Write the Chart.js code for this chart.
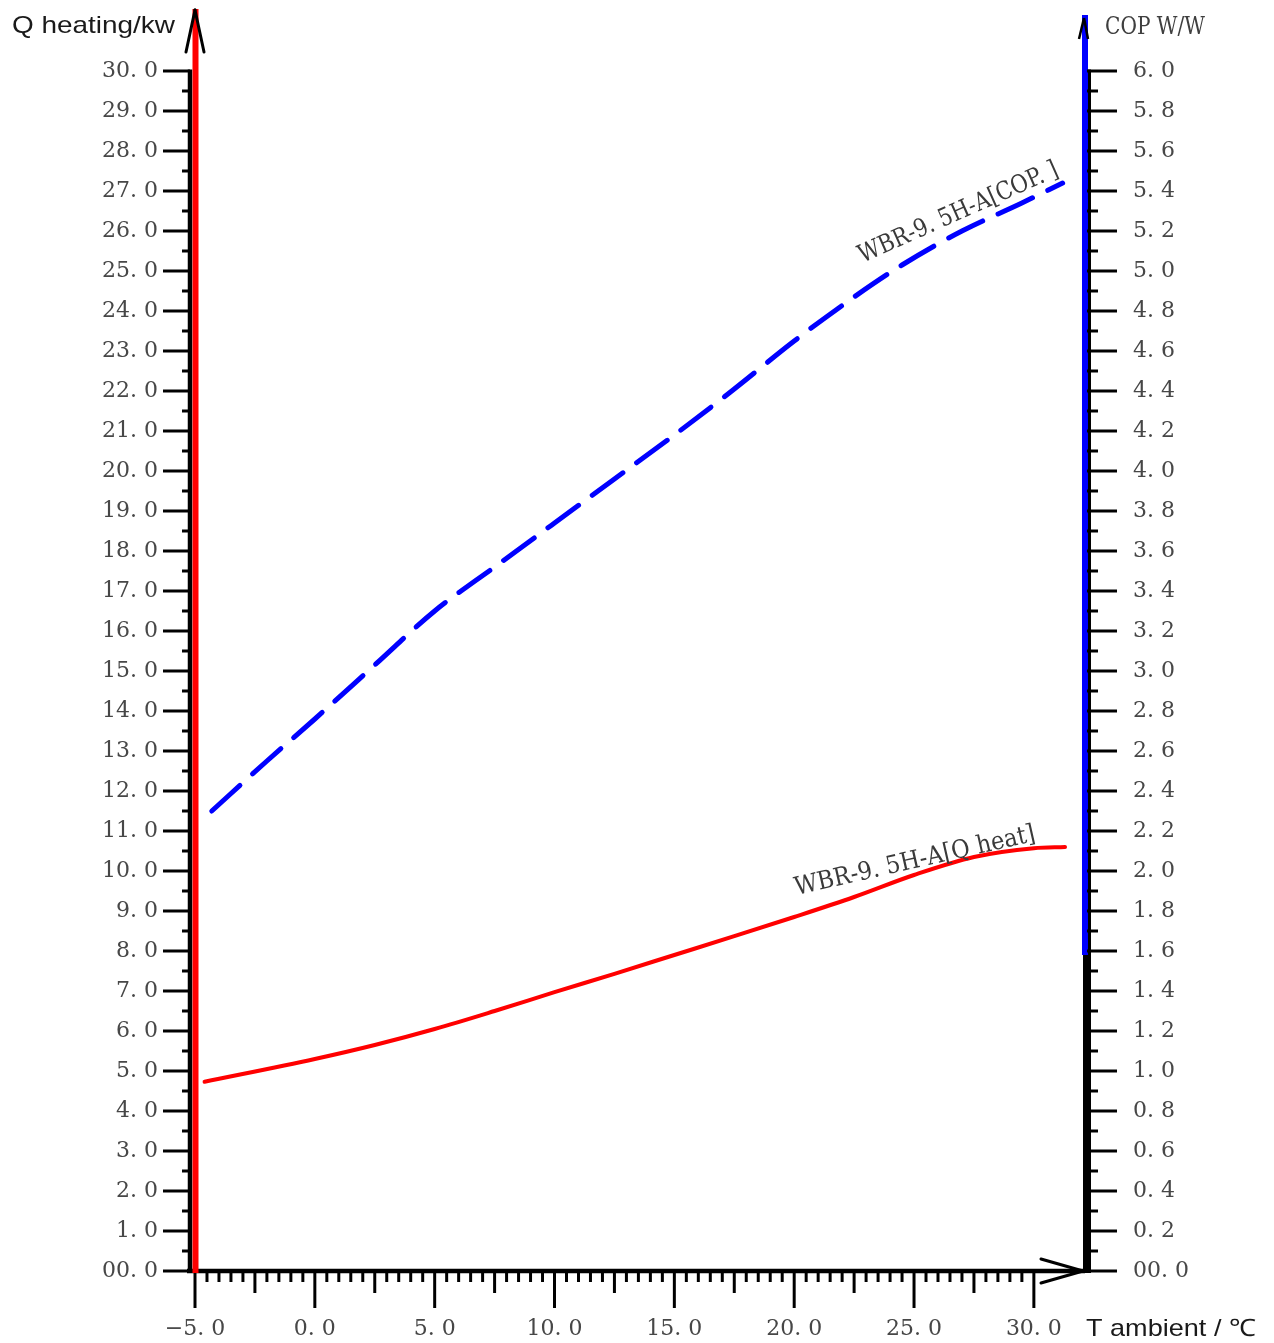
<!DOCTYPE html>
<html><head><meta charset="utf-8">
<script src="https://cdn.jsdelivr.net/npm/chart.js@4.4.1/dist/chart.umd.min.js"></script>
<style>html,body{margin:0;padding:0;background:#fff;overflow:hidden}canvas{display:block}</style>
</head><body>
<canvas id="c" width="1274" height="1343"></canvas>
<script>
// ---- data ----
const qTemp = [-4.6, 0, 2.5, 5, 7.5, 10, 12.5, 15, 17.5, 20, 22.5, 25, 27.5, 30, 31.3];
const qHeat = [4.73, 5.30, 5.65, 6.05, 6.5, 6.97, 7.43, 7.9, 8.37, 8.85, 9.35, 9.9, 10.35, 10.57, 10.6];
const copTemp = [-4.3, -2, 0, 2.5, 5, 7.5, 10, 12.5, 15, 17.5, 20, 22.5, 24.5, 27, 29.5, 31.2];
const copVal = [2.30, 2.55, 2.76, 3.03, 3.30, 3.52, 3.74, 3.96, 4.18, 4.41, 4.65, 4.87, 5.03, 5.20, 5.34, 5.44];

const xTicks = [-5, 0, 5, 10, 15, 20, 25, 30];
const xTickLabels = ['−5. 0','0. 0','5. 0','10. 0','15. 0','20. 0','25. 0','30. 0'];
const qTicks = [0,1,2,3,4,5,6,7,8,9,10,11,12,13,14,15,16,17,18,19,20,21,22,23,24,25,26,27,28,29,30];
const qTickLabels = ['00. 0','1. 0','2. 0','3. 0','4. 0','5. 0','6. 0','7. 0','8. 0','9. 0','10. 0','11. 0','12. 0','13. 0','14. 0','15. 0','16. 0','17. 0','18. 0','19. 0','20. 0','21. 0','22. 0','23. 0','24. 0','25. 0','26. 0','27. 0','28. 0','29. 0','30. 0'];
const copTicks = [0,0.2,0.4,0.6,0.8,1.0,1.2,1.4,1.6,1.8,2.0,2.2,2.4,2.6,2.8,3.0,3.2,3.4,3.6,3.8,4.0,4.2,4.4,4.6,4.8,5.0,5.2,5.4,5.6,5.8,6.0];
const copTickLabels = ['00. 0','0. 2','0. 4','0. 6','0. 8','1. 0','1. 2','1. 4','1. 6','1. 8','2. 0','2. 2','2. 4','2. 6','2. 8','3. 0','3. 2','3. 4','3. 6','3. 8','4. 0','4. 2','4. 4','4. 6','4. 8','5. 0','5. 2','5. 4','5. 6','5. 8','6. 0'];

const qLabel = 'WBR-9. 5H-A[Q heat]';
const copLabel = 'WBR-9. 5H-A[COP. ]';
const yLeftTitle = 'Q heating/kw';
const yRightTitle = 'COP W/W';
const xTitle = 'T ambient / ℃';

const X_MIN = -5, X_MAX = 32.05, Q_MAX = 31.775, COP_MAX = Q_MAX / 5;
const tickFont = {family: 'DejaVu Serif', size: 22};
const tickColor = '#474747';

function zeroPad(s){ s.paddingTop = 0; s.paddingBottom = 0; s.paddingLeft = 0; s.paddingRight = 0; }

const decoPlugin = {
  id: 'deco',
  afterDatasetsDraw(chart){
    const c = chart.ctx;
    const xs = chart.scales.x, ys = chart.scales.y, y2 = chart.scales.y2;
    const X = v => xs.getPixelForValue(v), Y = v => ys.getPixelForValue(v), Y2 = v => y2.getPixelForValue(v);
    const x0 = X(-5), xr = chart.chartArea.right, yb = Y(0), yt = Y(30);
    function line(a,b,cc,d,w,col){ c.beginPath(); c.moveTo(a,b); c.lineTo(cc,d); c.lineWidth=w; c.strokeStyle=col||'#000'; c.stroke(); }
    c.save();
    c.lineCap = 'butt';
    // left axis
    line(x0-5, yt-1.5, x0-5, yb+2, 4.5);
    qTicks.forEach(v => line(x0-32, Y(v), x0-5, Y(v), 3));
    qTicks.slice(0,-1).forEach(v => line(x0-13, Y(v+0.5), x0-5, Y(v+0.5), 3));
    // bottom axis
    line(x0-8, yb, xr+2, yb, 4.5);
    for (let v = -5; v <= 30.001; v += 0.5) {
      const r = Math.round(v*2);
      let len = 11;
      if (r % 10 === 0) len = 37; else if (r % 5 === 0) len = 22;
      line(X(v), yb+2, X(v), yb+len, 3);
    }
    // x arrow
    c.lineCap = 'round';
    line(xr, yb, xr-42, yb-12, 3);
    line(xr, yb, xr-42, yb+12, 3);
    c.lineCap = 'butt';
    // right axis (black under, blue on top)
    line(xr+4, yt-1.5, xr+4, yb+2, 8);
    line(xr+2, 15, xr+2, Y2(1.58), 6, '#0000ff');
    copTicks.forEach(v => line(xr+4, Y2(v), xr+34, Y2(v), 3));
    copTicks.slice(0,-1).forEach(v => line(xr+4, Y2(v+0.1), xr+15, Y2(v+0.1), 3));
    // small arrow on right axis
    line(xr+1, 18, xr-4, 39, 2.5);
    line(xr+1, 18, xr+5, 39, 2.5);
    // red vertical line at left
    line(x0+0.5, 9, x0+0.5, yb+2, 6, '#ff0000');
    // left arrow
    c.lineCap = 'round';
    line(x0, 10, x0-9, 52, 3);
    line(x0, 10, x0+9, 52, 3);
    // titles
    c.fillStyle = '#1a1a1a';
    c.textBaseline = 'middle';
    c.textAlign = 'left';
    c.font = '24px "Liberation Sans"';
    drawFit(c, yLeftTitle, 12, 26, 163);
    c.font = '24px "Liberation Sans"';
    drawFit(c, xTitle, 1086, 1329, 170);
    c.fillStyle = '#3f3f3f';
    c.font = '24px "DejaVu Serif"';
    drawFit(c, yRightTitle, 1105, 28, 100);
    // curve labels
    c.fillStyle = '#3a3a3a';
    c.font = '25px "DejaVu Serif"';
    c.textBaseline = 'alphabetic';
    rotText(c, qLabel, X(20.1), Y(9.4), -12.8, 246);
    rotText(c, copLabel, X(22.85), Y(25.2), -24, 216);
    c.restore();
  }
};
function drawFit(c, t, x, y, w){
  const m = c.measureText(t).width;
  c.save(); c.translate(x, y); c.scale(w/m, 1); c.fillText(t, 0, 0); c.restore();
}
function rotText(c, t, x, y, deg, w){
  const m = c.measureText(t).width;
  c.save(); c.translate(x, y); c.rotate(deg*Math.PI/180); c.scale(w/m, 1); c.fillText(t, 0, 0); c.restore();
}

new Chart(document.getElementById('c').getContext('2d'), {
  type: 'line',
  data: {
    datasets: [
      {label: qLabel, data: qTemp.map((x,i)=>({x, y: qHeat[i]})), yAxisID: 'y',
       borderColor: '#ff0000', borderWidth: 4, pointRadius: 0, cubicInterpolationMode: 'monotone', fill: false, borderCapStyle: 'round'},
      {label: copLabel, data: copTemp.map((x,i)=>({x, y: copVal[i]})), yAxisID: 'y2',
       borderColor: '#0000ff', borderWidth: 5, borderDash: [38, 17], borderCapStyle: 'round', pointRadius: 0, cubicInterpolationMode: 'monotone', fill: false}
    ]
  },
  options: {
    responsive: false, animation: false, devicePixelRatio: 1,
    layout: {padding: 0},
    plugins: {legend: {display: false}, tooltip: {enabled: false}},
    scales: {
      x: {type: 'linear', position: 'bottom', min: X_MIN, max: X_MAX,
          grid: {display: false, drawTicks: false}, border: {display: false},
          afterBuildTicks: s => { s.ticks = xTicks.map(v => ({value: v})); },
          afterFit: s => { s.height = 72; zeroPad(s); },
          ticks: {autoSkip: false, maxRotation: 0, padding: 45, color: tickColor, font: tickFont,
                  callback: (v, i) => xTickLabels[i]}},
      y: {type: 'linear', position: 'left', min: 0, max: Q_MAX,
          grid: {display: false, drawTicks: false}, border: {display: false},
          afterBuildTicks: s => { s.ticks = qTicks.map(v => ({value: v})); },
          afterFit: s => { s.width = 195; zeroPad(s); },
          ticks: {autoSkip: false, padding: 37, color: tickColor, font: tickFont,
                  callback: (v, i) => qTickLabels[i]}},
      y2: {type: 'linear', position: 'right', min: 0, max: COP_MAX,
          grid: {display: false, drawTicks: false}, border: {display: false},
          afterBuildTicks: s => { s.ticks = copTicks.map(v => ({value: v})); },
          afterFit: s => { s.width = 191; zeroPad(s); },
          ticks: {autoSkip: false, padding: 50, color: tickColor, font: tickFont,
                  callback: (v, i) => copTickLabels[i]}}
    }
  },
  plugins: [decoPlugin]
});
</script>
</body></html>
